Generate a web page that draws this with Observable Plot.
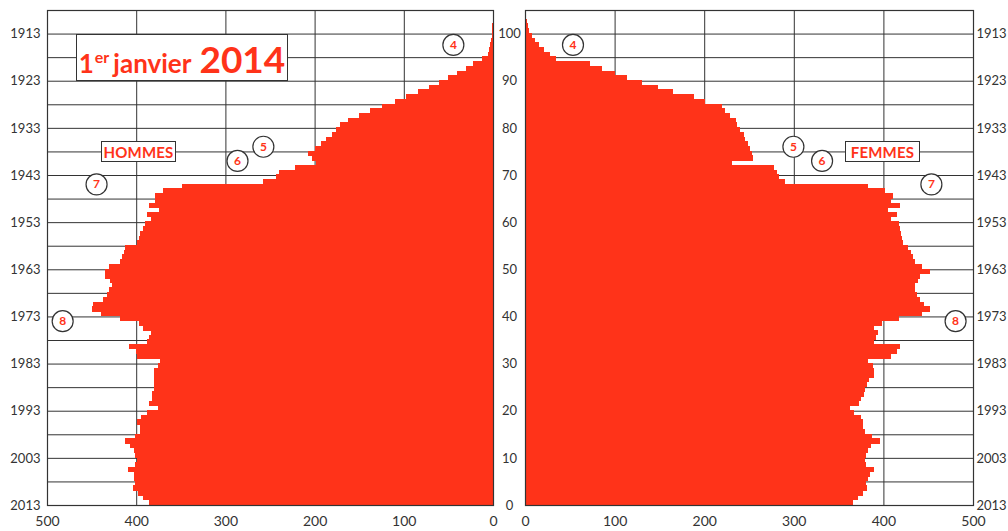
<!DOCTYPE html>
<html>
<head>
<meta charset="utf-8">
<script src="https://cdn.jsdelivr.net/npm/d3@7"></script>
<script src="https://cdn.jsdelivr.net/npm/@observablehq/plot@0.6"></script>
<style>
  html, body { margin: 0; padding: 0; background: white; }
  #wrap { position: relative; width: 1008px; height: 531px; overflow: hidden; font-family: Lato, sans-serif; }
  .box { position: absolute; box-sizing: border-box; border: 1.3px solid #333; background: white;
         color: #ff3319; font-weight: bold; display: flex; align-items: center; justify-content: center; }
  .lbl { font-size: 15px; letter-spacing: 0.2px; }
  .title span.t { white-space: nowrap; line-height: 1; position: relative; top: 1px; }
  .title .sup { font-size: 16px; position: relative; top: -10px; margin-left: 1px; margin-right: 4px; }
</style>
</head>
<body>
<div id="wrap"></div>
<script>
// ---- data: population au 1er janvier 2014 (milliers), âges 0 à 104 ----
const ages = d3.range(0, 105);
const hommes = [
  386, 392, 398, 404, 401, 402, 403, 409, 401, 399,
  401, 403, 407, 413, 401, 396, 396, 399, 395, 388,
  376, 386, 382, 382, 380, 380, 380, 380, 380, 376,
  373, 399, 400, 408, 388, 386, 383, 392, 397, 418,
  440, 450, 448, 437, 433, 431, 427, 429, 435, 435,
  431, 418, 416, 414, 413, 399, 397, 396, 392, 390,
  383, 388, 375, 386, 379, 379, 370, 349, 258, 243,
  240, 222, 198, 203, 207, 200, 193, 187, 181, 176,
  172, 162, 150, 138, 124, 110, 97, 84, 72, 61,
  50, 40, 30, 22, 12, 6, 4, 3, 2, 1.5,
  1, 0.7, 0.4, 0.2, 0.1
];
const femmes = [
  366, 372, 377, 382, 381, 383, 385, 389, 381, 379,
  381, 383, 386, 396, 387, 379, 377, 377, 375, 367,
  363, 373, 375, 378, 379, 382, 384, 389, 389, 388,
  383, 408, 415, 419, 390, 392, 394, 390, 398, 417,
  443, 452, 445, 441, 437, 435, 435, 439, 441, 452,
  443, 435, 433, 431, 428, 422, 421, 420, 419, 417,
  409, 415, 405, 419, 409, 411, 402, 383, 290, 284,
  281, 278, 231, 255, 253, 251, 249, 246, 244, 240,
  237, 235, 229, 223, 220, 201, 189, 165, 148, 131,
  114, 100, 86, 72, 35, 28, 21, 16, 11, 8,
  5, 3.5, 2.5, 1.5, 1
];
const xTicks = [0, 100, 200, 300, 400, 500];
const ageTicks = [0, 10, 20, 30, 40, 50, 60, 70, 80, 90, 100];
const yearOfAge0 = 2013;
const gridAges = d3.range(5, 101, 5);
const gridValues = [100, 200, 300, 400];

// annotations (cercles numérotés)
const annoLabels = ["4", "5", "6", "7", "8"];
const annoHommesX = [45, 258, 287, 445, 483];
const annoFemmesX = [53, 299, 331, 453, 480];
const annoAges = [97.7, 76.1, 73.1, 68.1, 39.1];

const RED = "#ff3319";
const INK = "#333";

const mk = (vals) => ages.map((a, i) => ({age: a, v: vals[i]}));
const annoH = annoLabels.map((t, i) => ({t, x: annoHommesX[i], y: annoAges[i]}));
const annoF = annoLabels.map((t, i) => ({t, x: annoFemmesX[i], y: annoAges[i]}));

const baseStyle = {fontFamily: "Lato, sans-serif", fontSize: "13px", color: INK, background: "transparent", overflow: "visible"};

function panel(data, anno, side) {
  const left = side === "left";
  return Plot.plot({
    width: left ? 525 : 483,
    height: 531,
    marginLeft: left ? 47 : 0,
    marginRight: left ? 32 : 35,
    marginTop: 10,
    marginBottom: 26,
    x: {domain: left ? [500, 0] : [0, 500]},
    y: {domain: [0, 105]},
    style: baseStyle,
    marks: [
      Plot.gridY(gridAges, {stroke: INK, strokeOpacity: 1, strokeWidth: 1}),
      Plot.gridX(gridValues, {stroke: INK, strokeOpacity: 1, strokeWidth: 1}),
      Plot.rect(data, {x1: () => 0, x2: "v", y1: "age", y2: d => Math.min(d.age + 1.15, 105), fill: RED, shapeRendering: "crispEdges"}),
      Plot.frame({stroke: INK, strokeWidth: 1.2}),
      Plot.axisX({ticks: xTicks, tickSize: 0, tickPadding: 11, label: null, fontSize: 14}),
      Plot.axisY({anchor: left ? "left" : "right", ticks: ageTicks, tickFormat: a => String(yearOfAge0 - a),
                  tickSize: 0, tickPadding: left ? 7 : 3, label: null}),
      left ? Plot.axisY({anchor: "right", ticks: ageTicks, tickSize: 0, tickPadding: 16, textAnchor: "middle", label: null}) : null,
      Plot.dot(anno, {x: "x", y: "y", r: 10.5, stroke: INK, strokeWidth: 1.2, fill: "white"}),
      Plot.text(anno, {x: "x", y: "y", text: "t", fill: RED, fontWeight: "bold", fontSize: 12})
    ]
  });
}

const wrap = document.getElementById("wrap");
const L = panel(mk(hommes), annoH, "left");
L.style.position = "absolute"; L.style.left = "0px"; L.style.top = "0px";
const R = panel(mk(femmes), annoF, "right");
R.style.position = "absolute"; R.style.left = "525px"; R.style.top = "0px";
wrap.appendChild(L);
wrap.appendChild(R);

function box(cls, html, x, y, w, h) {
  const d = document.createElement("div");
  d.className = "box " + cls;
  d.innerHTML = html;
  Object.assign(d.style, {left: x + "px", top: y + "px", width: w + "px", height: h + "px"});
  wrap.appendChild(d);
  return d;
}
box("title", '<span class="t"><span style="font-size:26px">1</span><span class="sup">er</span><span style="font-size:26px">janvier</span><span style="font-size:37px;margin-left:8px">2014</span></span>', 76, 34, 212, 47);
box("lbl", "HOMMES", 101, 141, 75, 21);
box("lbl", "FEMMES", 845, 141, 75, 21);
</script>
</body>
</html>
